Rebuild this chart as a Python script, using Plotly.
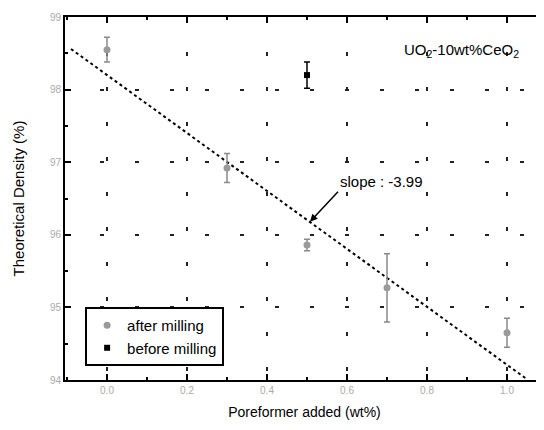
import plotly.graph_objects as go

# after milling
after_x = [0.0, 0.3, 0.5, 0.7, 1.0]
after_y = [98.55, 96.92, 95.86, 95.27, 94.65]
after_err = [0.17, 0.20, 0.08, 0.47, 0.20]

# before milling
before_x = [0.5]
before_y = [98.20]
before_err = [0.18]

# linear fit (end points)
fit_x = [-0.09, 1.05]
fit_y = [98.56, 94.01]

x_ticks = [0.0, 0.2, 0.4, 0.6, 0.8, 1.0]
x_ticklabels = ["0.0", "0.2", "0.4", "0.6", "0.8", "1.0"]
y_ticks = [94, 95, 96, 97, 98, 99]
y_ticklabels = ["94", "95", "96", "97", "98", "99"]

FONT = "Liberation Sans, Arial, sans-serif"

fig = go.Figure()

fig.add_trace(go.Scatter(
    x=fit_x, y=fit_y, mode="lines",
    line=dict(color="black", width=2, dash="dot"),
    showlegend=False, hoverinfo="skip"))

fig.add_trace(go.Scatter(
    x=after_x, y=after_y, mode="markers", name="after milling",
    marker=dict(symbol="circle", size=7, color="#9a9a9a"),
    error_y=dict(type="data", array=after_err, color="#8a8a8a", thickness=1.5, width=3)))

fig.add_trace(go.Scatter(
    x=before_x, y=before_y, mode="markers", name="before milling",
    marker=dict(symbol="square", size=6, color="black"),
    error_y=dict(type="data", array=before_err, color="black", thickness=1.5, width=3)))

fig.add_annotation(
    x=0.5075, y=96.18, xref="x", yref="y",
    text="slope : -3.99", showarrow=True,
    ax=28, ay=-30, arrowhead=2, arrowsize=1, arrowwidth=1.5, arrowcolor="black",
    font=dict(family=FONT, size=15, color="black"), xanchor="left", yanchor="bottom")

fig.add_annotation(
    x=0.7375, y=98.545, xref="x", yref="y",
    text="UO<sub>2</sub>-10wt%CeO<sub>2</sub>", showarrow=False,
    font=dict(family=FONT, size=15, color="black"), xanchor="left")

fig.update_layout(
    width=536, height=422,
    margin=dict(l=57, r=0, t=9, b=50),
    paper_bgcolor="white", plot_bgcolor="white",
    font=dict(family=FONT, size=12, color="black"),
    legend=dict(x=0.042, y=0.201, xanchor="left", yanchor="top",
                bordercolor="black", borderwidth=2, bgcolor="white",
                font=dict(family=FONT, size=15, color="black"),
                itemwidth=30, tracegroupgap=0),
    xaxis=dict(
        range=[-0.105, 1.0925], tickvals=x_ticks, ticktext=x_ticklabels,
        ticks="inside", ticklen=6, tickwidth=2, tickcolor="black",
        minor=dict(dtick=0.1, tick0=0, ticks="inside", ticklen=3, tickwidth=1.5, tickcolor="black", showgrid=False),
        showline=True, linewidth=2, linecolor="black", mirror="ticks",
        showgrid=True, gridcolor="#222222", gridwidth=1.5, griddash="4px,31px",
        zeroline=False,
        tickfont=dict(family=FONT, size=10, color="#aaaaaa"),
        title=dict(text="Poreformer added (wt%)", font=dict(family=FONT, size=14, color="black"), standoff=12)),
    yaxis=dict(
        range=[94, 99], tickvals=y_ticks, ticktext=y_ticklabels,
        ticks="inside", ticklen=6, tickwidth=2, tickcolor="black",
        minor=dict(dtick=0.5, tick0=94, ticks="inside", ticklen=3, tickwidth=1.5, tickcolor="black", showgrid=False),
        showline=True, linewidth=2, linecolor="black", mirror=False,
        showgrid=True, gridcolor="#222222", gridwidth=1.5, griddash="4px,31px",
        zeroline=False,
        tickfont=dict(family=FONT, size=10, color="#aaaaaa"),
        title=dict(text="Theoretical Density (%)", font=dict(family=FONT, size=15, color="black"), standoff=22)),
)

fig.write_html("out.html")
